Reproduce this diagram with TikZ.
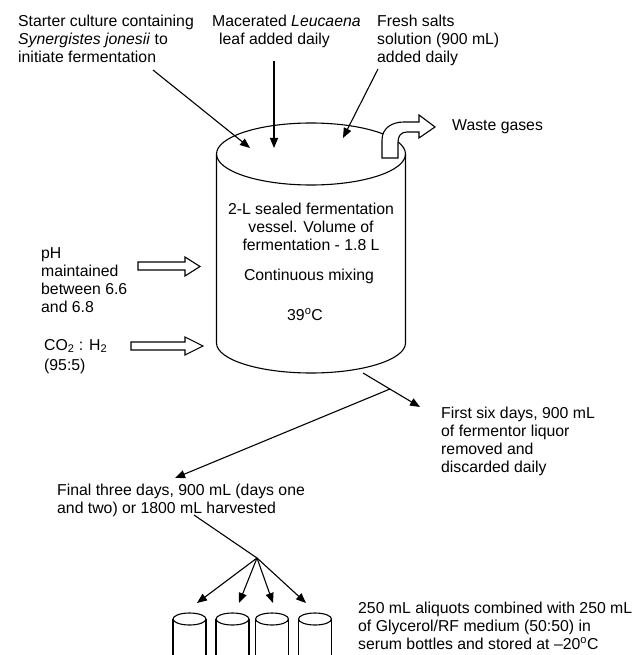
\documentclass[tikz,border=0pt]{standalone}
\usepackage{fontspec}
\setmainfont{Liberation Sans}
\usetikzlibrary{arrows.meta}
\newcommand\mlleft[1]{\begin{tabular}[t]{@{}l@{}}#1\end{tabular}}
\newcommand\mlcent[1]{\begin{tabular}[t]{@{}c@{}}#1\end{tabular}}
\begin{document}
\begin{tikzpicture}[x=1pt,y=-1pt,
  every node/.style={inner sep=0pt, font=\fontsize{15.8}{18}\selectfont},
  lbl/.style={anchor=base west},
  ctr/.style={anchor=base},
  arr/.style={line width=1.1pt, -{Triangle[length=10pt,width=8pt]}},
  ln/.style={line width=1.1pt},
  hollow/.style={line width=1.1pt, line join=miter, fill=white},
]
\useasboundingbox (0,0) rectangle (637,655);
\clip (0,0) rectangle (637,655);
\fill[white] (0,0) rectangle (637,655);

% ---------- texts ----------
\node[lbl] (starter) at (18,27) {\mlleft{Starter culture containing\\\textit{Synergistes jonesii} to\\initiate fermentation}};
\node[lbl] (leaf) at (212,27) {\mlleft{Macerated \textit{Leucaena}\\\hspace*{7pt}leaf added daily}};
\node[lbl] (salts) at (377,27) {\mlleft{Fresh salts\\solution (900 mL)\\added daily}};
\node[lbl] (waste) at (452,131) {Waste gases};
\node[ctr] (vessel) at (311,214) {\mlcent{2-L sealed fermentation\\vessel. Volume of\\fermentation - 1.8 L}};
\node[ctr] (mixing) at (309,280) {Continuous mixing};
\node[ctr] (temp) at (305,320) {39\textsuperscript{o}C};
\node[lbl] (ph) at (41,258) {\mlleft{pH\\maintained\\between 6.6\\and 6.8}};
\node[lbl] (gas) at (44,350) {\mlleft{CO\textsubscript{2} : H\textsubscript{2}\\[2pt](95:5)}};
\node[lbl] (first) at (441,418) {\mlleft{First six days, 900 mL\\of fermentor liquor\\removed and\\discarded daily}};
\node[lbl] (final) at (57,495) {\mlleft{Final three days, 900 mL (days one\\and two) or 1800 mL harvested}};
\node[lbl] (aliq) at (358,613) {\mlleft{250 mL aliquots combined with 250 mL\\of Glycerol/RF medium (50:50) in\\serum bottles and stored at \textendash 20\textsuperscript{o}C}};

% ---------- vessel ----------
\draw[ln] (216.5,154) -- (216.5,343) arc[start angle=180, end angle=0, x radius=94.5, y radius=30] -- (405.5,154);
\draw[ln] (311,154) ellipse [x radius=94.5, y radius=31];

% waste gas bent arrow
\draw[hollow] (382,158) -- (382,140) .. controls (382,128) and (392,122) .. (404,122)
  -- (419,122) -- (419,115) -- (435,127) -- (419,138) -- (419,132) -- (407,132)
  .. controls (401,132) and (398,136) .. (398,142) -- (398,158) -- cycle;

% hollow input arrows
\draw[hollow] (138,262) -- (185,262) -- (185,257) -- (200,266.5) -- (185,276) -- (185,270) -- (138,270) -- cycle;
\draw[hollow] (131,342) -- (185,342) -- (185,337) -- (203,346) -- (185,355) -- (185,350) -- (131,350) -- cycle;

% ---------- coordinates ----------
\coordinate (s0) at (153,70);   \coordinate (s1) at (250,148);
\coordinate (l0) at (274,61);   \coordinate (l1) at (274,148);
\coordinate (f0) at (378,69);   \coordinate (f1) at (343,138);
\coordinate (e0) at (363,373);  \coordinate (e1) at (420,407);
\coordinate (h0) at (390,389);  \coordinate (h1) at (175,478);
\coordinate (d0) at (194,515);  \coordinate (fan) at (257,558);
\coordinate (b1) at (197,603);  \coordinate (b2) at (239,603);
\coordinate (b3) at (273,603);  \coordinate (b4) at (306,603);

\draw[arr] (s0) -- (s1);
\draw[arr] (l0) -- (l1);
\draw[arr] (f0) -- (f1);
\draw[arr] (e0) -- (e1);
\draw[arr] (h0) -- (h1);
\draw[ln] (d0) -- (fan);
\foreach \b in {b1,b2,b3,b4} \draw[arr] (fan) -- (\b);

% ---------- bottles ----------
\foreach \cx in {189.5,232.5,272,315}{
  \draw[ln] (\cx,619) ellipse [x radius=16.5, y radius=6];
  \draw[ln] (\cx-16.5,619) -- (\cx-16.5,662);
  \draw[ln] (\cx+16.5,619) -- (\cx+16.5,662);
}
\end{tikzpicture}
\end{document}
